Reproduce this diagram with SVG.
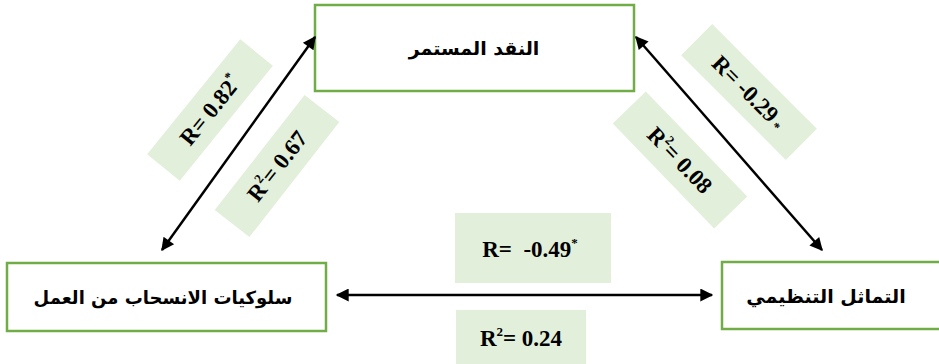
<svg xmlns="http://www.w3.org/2000/svg" width="939" height="364" viewBox="0 0 939 364">
<style>
.node{fill:#fff;stroke:#70AD47;stroke-width:2.5}
.ar{font-family:"DejaVu Sans",sans-serif;font-weight:bold;font-size:19px;fill:#000;text-anchor:middle}
.lbl{fill:#E2EFDA}
.num{font-family:"Liberation Serif",serif;font-weight:bold;font-size:23px;fill:#000;text-anchor:middle}
.sup{font-size:13px}
.conn{stroke:#000;stroke-width:2.5;fill:none;marker-start:url(#ah);marker-end:url(#ah)}
</style>
<defs>
<marker id="ah" viewBox="0 0 10 10" refX="9" refY="5" markerWidth="16" markerHeight="13" markerUnits="userSpaceOnUse" orient="auto-start-reverse">
<path d="M0,0 L10,5 L0,10 z" fill="#000"/>
</marker>
</defs>
<g id="node-naqd">
<rect class="node" x="315" y="5" width="319" height="86"/>
<text class="ar" x="474" y="55" direction="rtl">النقد المستمر</text>
</g>
<g id="node-suluk">
<rect class="node" x="7" y="263" width="319" height="68"/>
<text class="ar" x="163" y="304" direction="rtl" style="font-size:18px">سلوكيات الانسحاب من العمل</text>
</g>
<g id="node-tamathul">
<rect class="node" x="722" y="262" width="225" height="67"/>
<text class="ar" x="826" y="303" direction="rtl">التماثل التنظيمي</text>
</g>
<g id="connectors">
<line class="conn" x1="162" y1="250" x2="315" y2="37"/>
<line class="conn" x1="636" y1="37" x2="822" y2="250"/>
<line class="conn" x1="337" y1="295" x2="712" y2="295"/>
</g>
<g id="labels">
<g transform="translate(210,110) rotate(-51)">
<rect class="lbl" x="-74" y="-21" width="148" height="42"/>
<text class="num" x="0" y="8">R= 0.82<tspan class="sup" dy="-10">*</tspan></text>
</g>
<g transform="translate(277,166) rotate(-52)">
<rect class="lbl" x="-73" y="-22" width="146" height="44"/>
<text class="num" x="0" y="8">R<tspan class="sup" dy="-10">2</tspan><tspan dy="10">= 0.67</tspan></text>
</g>
<g transform="translate(749,92) rotate(45)">
<rect class="lbl" x="-74" y="-22" width="148" height="44"/>
<text class="num" x="0" y="8">R= -0.29<tspan class="sup" dy="2"> *</tspan></text>
</g>
<g transform="translate(680,160) rotate(46)">
<rect class="lbl" x="-73" y="-23" width="146" height="46"/>
<text class="num" x="0" y="8">R<tspan class="sup" dy="-10">2</tspan><tspan dy="10">= 0.08</tspan></text>
</g>
<rect class="lbl" x="455" y="213" width="156" height="70"/>
<text class="num" x="530" y="257" xml:space="preserve">R=  -0.49<tspan class="sup" dy="-10">*</tspan></text>
<rect class="lbl" x="456" y="310" width="130" height="54"/>
<text class="num" x="521" y="346">R<tspan class="sup" dy="-10">2</tspan><tspan dy="10">= 0.24</tspan></text>
</g>
</svg>
